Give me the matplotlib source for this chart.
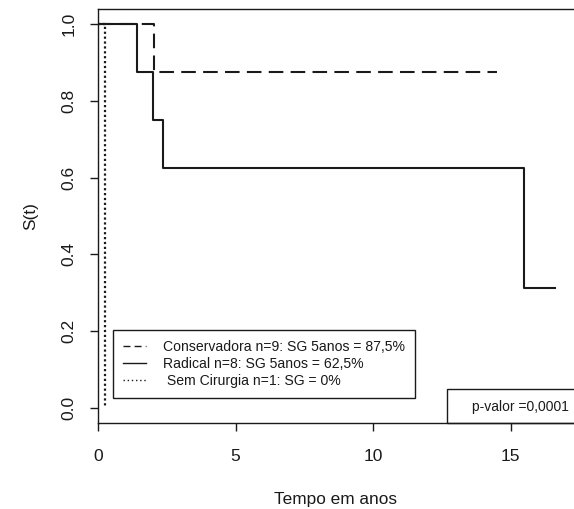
import matplotlib
matplotlib.use("Agg")
import matplotlib.pyplot as plt
from matplotlib.lines import Line2D
from matplotlib.patches import Rectangle

plt.rcParams["font.family"] = ["Liberation Sans", "DejaVu Sans"]

# Kaplan-Meier step data (time in years, survival)
cons_t = [0, 2.03, 14.5]
cons_s = [1.0, 0.875, 0.875]
rad_t = [0, 1.40, 2.00, 2.37, 15.5, 16.6]
rad_s = [1.0, 0.875, 0.75, 0.625, 0.3125, 0.3125]
sem_t = [0, 0.24]
sem_s = [1.0, 0.0]

labels = [
    "Conservadora n=9: SG 5anos = 87,5%",
    "Radical n=8: SG 5anos = 62,5%",
    " Sem Cirurgia n=1: SG = 0%",
]
pvalue_text = "p-valor =0,0001"
xticks = [0, 5, 10, 15]
yticks = [0.0, 0.2, 0.4, 0.6, 0.8, 1.0]

W, H = 574, 509
fig = plt.figure(figsize=(W / 100, H / 100), dpi=100)
ax = fig.add_axes([98 / W, 1 - 423 / H, 1 - 98 / W, (423 - 9) / H])

ink = "#1a1a1a"
ax.step(cons_t, cons_s, where="post", color=ink, lw=1.5, dashes=(7, 3.5))
ax.step(rad_t, rad_s, where="post", color=ink, lw=1.5)
ax.step(sem_t, sem_s, where="post", color=ink, lw=1.6, dashes=(1, 1.2))

ax.set_xlim(0, 17.3)
ax.set_ylim(-0.04, 1.04)
ax.set_xticks(xticks)
ax.set_xticklabels([str(v) for v in xticks])
ax.set_yticks(yticks)
ax.set_yticklabels([f"{v:.1f}" for v in yticks], rotation=90, va="center")
ax.tick_params(direction="out", length=6, width=1, colors=ink, labelsize=12.5, pad=9.5)
ax.tick_params(axis="x", pad=13)
ax.spines["right"].set_visible(False)
for s in ("left", "top", "bottom"):
    ax.spines[s].set_color(ink)
    ax.spines[s].set_linewidth(1)

ax.set_xlabel("Tempo em anos", fontsize=12.4, color=ink, labelpad=20)
ax.set_ylabel("S(t)", fontsize=12.4, color=ink, labelpad=17)

handles = [
    Line2D([], [], color=ink, lw=1, dashes=(5, 3)),
    Line2D([], [], color=ink, lw=1),
    Line2D([], [], color=ink, lw=1, dashes=(1, 2)),
]
leg = ax.legend(handles, labels, loc="lower left",
                bbox_to_anchor=(113 / W, 1 - 398 / H, (415 - 113) / W, 0.01),
                bbox_transform=fig.transFigure, mode="expand", borderaxespad=0,
                fancybox=False, edgecolor=ink, framealpha=1, fontsize=10.1,
                handlelength=1.65, handletextpad=1.2, labelspacing=0.23,
                borderpad=0.7)
leg.get_frame().set_linewidth(1)
for t in leg.get_texts():
    t.set_color(ink)

fig.patches.append(Rectangle((447 / W, 1 - 423 / H), 0.3, (423 - 389) / H,
                             transform=fig.transFigure, fill=False,
                             edgecolor=ink, lw=1, clip_on=False))
fig.text(520 / W, 1 - 407 / H, pvalue_text, ha="center", va="center",
         fontsize=10, color=ink)

fig.savefig("out.png", dpi=100)
